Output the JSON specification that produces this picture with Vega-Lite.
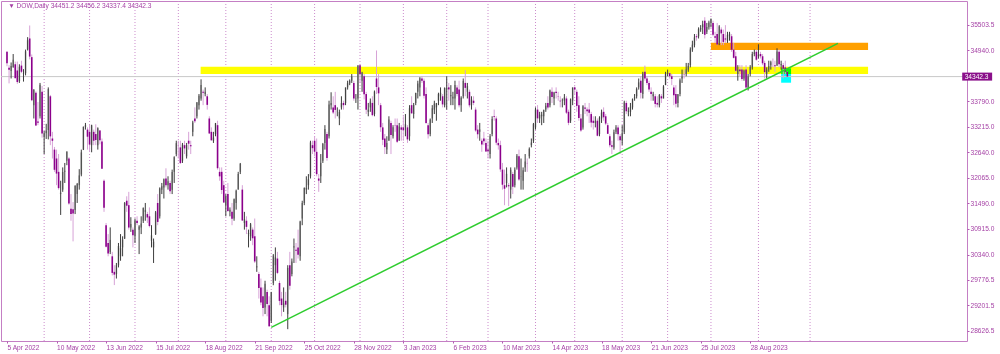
{
"$schema":"https://vega.github.io/schema/vega-lite/v6.json",
"width":966,"height":340,
"autosize":{"type":"none"},
"padding":{"left":1,"top":1,"right":33,"bottom":13},
"background":"white",
"config":{
"view":{"stroke":"#c47fc4","strokeWidth":1},
"axis":{"grid":false,"domain":false,"labelFont":"Liberation Sans","labelFontSize":6.6,"labelColor":"#a43fa4","tickColor":"#b25bb2","labelOverlap":false,"labelFlush":false,"labelBound":false},
"axisX":{"tickSize":2,"labelAlign":"left","labelPadding":1,"labelBaseline":"top","labelDx":0.5},
"axisY":{"tickSize":2,"labelPadding":1,"labelBaseline":"middle","labelAlign":"left"}
},
"encoding":{
"x":{"type":"quantitative","title":null,"scale":{"domain":[-0.48,462.6],"nice":false,"zero":false},
 "axis":{"labelOverlap":false,"values":[0,24,48,72,96,120,144,168,192,216,240,264,288,312,336,360],"labelExpr":"['5 Apr 2022','10 May 2022','13 Jun 2022','15 Jul 2022','18 Aug 2022','21 Sep 2022','25 Oct 2022','28 Nov 2022','3 Jan 2023','6 Feb 2023','10 Mar 2023','14 Apr 2023','18 May 2023','21 Jun 2023','25 Jul 2023','28 Aug 2023'][round(datum.value/24)]"}},
"y":{"type":"quantitative","title":null,"scale":{"domain":[28395,36043],"nice":false,"zero":false},
 "axis":{"orient":"right","labelOverlap":false,"values":[35503.5,34940.0,33790.0,33215.0,32640.0,32065.0,31490.0,30915.0,30340.0,29776.5,29201.5,28626.5],"format":".1f"}}
},
"datasets":{
"grid":[{"m":18},{"m":40},{"m":62},{"m":83},{"m":106},{"m":128},{"m":149},{"m":171},{"m":192},{"m":213},{"m":233},{"m":256},{"m":275},{"m":298},{"m":320},{"m":341},{"m":364},{"m":389}],
"zones":[{"zone":"support","a":93.8,"b":417.1,"lo":34401,"hi":34565},{"zone":"resistance","a":341.0,"b":417.1,"lo":34941,"hi":35105}],
"box":[{"a":375.0,"b":379.8,"lo":34205,"hi":34529}],
"price":[{"p":34342.3}],
"header":[{"label":"▼ DOW,Daily  34451.2 34456.2 34337.4 34342.3"}],
"trend":[{"t":128.0,"p":28703},{"t":402.5,"p":35091.5}],
"candles":[
{"i":0,"o":34900,"h":34911,"l":34575,"c":34641},{"i":1,"o":34540,"h":34600,"l":34190,"c":34497},{"i":2,"o":34470,"h":34660,"l":34300,"c":34583},{"i":3,"o":34560,"h":34850,"l":34540,"c":34721},{"i":4,"o":34620,"h":34680,"l":34300,"c":34308},
{"i":5,"o":34480,"h":34680,"l":34180,"c":34220},{"i":6,"o":34240,"h":34620,"l":34200,"c":34564},{"i":7,"o":34590,"h":34700,"l":34420,"c":34451},{"i":8,"o":34400,"h":34510,"l":34230,"c":34412},{"i":9,"o":34420,"h":34950,"l":34370,"c":34911},
{"i":10,"o":34950,"h":35230,"l":34930,"c":35160},{"i":11,"o":35200,"h":35492,"l":34730,"c":34793},{"i":12,"o":34780,"h":34840,"l":33790,"c":33811},{"i":13,"o":33700,"h":34060,"l":33400,"c":34049},{"i":14,"o":33980,"h":34010,"l":33230,"c":33240},
{"i":15,"o":33330,"h":33770,"l":33250,"c":33302},{"i":16,"o":33450,"h":34200,"l":33400,"c":34160},{"i":17,"o":34000,"h":34130,"l":32970,"c":33061},{"i":18,"o":32990,"h":33120,"l":32600,"c":33061},{"i":19,"o":33070,"h":33280,"l":32940,"c":33128},
{"i":20,"o":33140,"h":34100,"l":32930,"c":34061},{"i":21,"o":33900,"h":33930,"l":32800,"c":32998},{"i":22,"o":32950,"h":33100,"l":32500,"c":32899},{"i":23,"o":32700,"h":32760,"l":32200,"c":32246},{"i":24,"o":32500,"h":32700,"l":31900,"c":32161},
{"i":25,"o":32200,"h":32600,"l":31800,"c":31834},{"i":26,"o":31700,"h":32000,"l":31230,"c":31730},{"i":27,"o":31800,"h":32300,"l":31750,"c":32196},{"i":28,"o":32200,"h":32400,"l":31950,"c":32223},{"i":29,"o":32450,"h":32660,"l":32350,"c":32655},
{"i":30,"o":32500,"h":32530,"l":31460,"c":31490},{"i":31,"o":31370,"h":31700,"l":31100,"c":31253},{"i":32,"o":31360,"h":31520,"l":30636,"c":31262},{"i":33,"o":31340,"h":31900,"l":31250,"c":31880},{"i":34,"o":31700,"h":31950,"l":31500,"c":31928},
{"i":35,"o":31900,"h":32260,"l":31800,"c":32120},{"i":36,"o":32140,"h":32700,"l":32100,"c":32637},{"i":37,"o":32700,"h":33220,"l":32690,"c":33213},{"i":38,"o":33213,"h":33300,"l":33150,"c":33250},{"i":39,"o":33150,"h":33200,"l":32700,"c":32990},
{"i":40,"o":33100,"h":33260,"l":32650,"c":32813},{"i":41,"o":32800,"h":33260,"l":32640,"c":33248},{"i":42,"o":33100,"h":33150,"l":32800,"c":32900},{"i":43,"o":33050,"h":33270,"l":32800,"c":32916},{"i":44,"o":32800,"h":33200,"l":32700,"c":33180},
{"i":45,"o":33130,"h":33140,"l":32820,"c":32910},{"i":46,"o":32880,"h":32950,"l":32270,"c":32272},{"i":47,"o":32000,"h":32030,"l":31300,"c":31393},{"i":48,"o":31000,"h":31050,"l":30500,"c":30517},{"i":49,"o":30600,"h":30800,"l":30300,"c":30365},
{"i":50,"o":30400,"h":30950,"l":30350,"c":30669},{"i":51,"o":30300,"h":30400,"l":29870,"c":29927},{"i":52,"o":29950,"h":30100,"l":29653,"c":29888},{"i":53,"o":29900,"h":30150,"l":29800,"c":30100},{"i":54,"o":30100,"h":30600,"l":30050,"c":30530},
{"i":55,"o":30300,"h":30800,"l":30200,"c":30483},{"i":56,"o":30500,"h":30750,"l":30300,"c":30677},{"i":57,"o":30700,"h":31520,"l":30690,"c":31500},{"i":58,"o":31550,"h":31650,"l":31300,"c":31438},{"i":59,"o":31450,"h":31750,"l":30900,"c":30947},
{"i":60,"o":30950,"h":31180,"l":30850,"c":31029},{"i":61,"o":30900,"h":30950,"l":30500,"c":30775},{"i":62,"o":30750,"h":31150,"l":30600,"c":31097},{"i":63,"o":31100,"h":31200,"l":31000,"c":31050},{"i":64,"o":30900,"h":31000,"l":30350,"c":30968},
{"i":65,"o":30950,"h":31200,"l":30800,"c":31037},{"i":66,"o":31100,"h":31400,"l":31050,"c":31385},{"i":67,"o":31300,"h":31500,"l":31100,"c":31338},{"i":68,"o":31250,"h":31300,"l":31050,"c":31173},{"i":69,"o":31200,"h":31400,"l":30950,"c":30982},
{"i":70,"o":30650,"h":31000,"l":30500,"c":30772},{"i":71,"o":30500,"h":30700,"l":30150,"c":30630},{"i":72,"o":30800,"h":31320,"l":30780,"c":31289},{"i":73,"o":31500,"h":31700,"l":31000,"c":31073},{"i":74,"o":31200,"h":31850,"l":31150,"c":31828},
{"i":75,"o":31800,"h":31950,"l":31700,"c":31875},{"i":76,"o":31850,"h":32050,"l":31600,"c":32036},{"i":77,"o":32050,"h":32280,"l":31850,"c":31899},{"i":78,"o":31900,"h":32100,"l":31800,"c":31990},{"i":79,"o":31950,"h":32000,"l":31700,"c":31762},
{"i":80,"o":31800,"h":32250,"l":31700,"c":32198},{"i":81,"o":32200,"h":32550,"l":31950,"c":32530},{"i":82,"o":32600,"h":32900,"l":32550,"c":32845},{"i":83,"o":32800,"h":32900,"l":32500,"c":32798},{"i":84,"o":32750,"h":32900,"l":32380,"c":32397},
{"i":85,"o":32450,"h":32850,"l":32400,"c":32813},{"i":86,"o":32800,"h":32900,"l":32600,"c":32727},{"i":87,"o":32550,"h":32850,"l":32500,"c":32803},{"i":88,"o":32900,"h":33100,"l":32700,"c":32833},{"i":89,"o":32800,"h":32900,"l":32600,"c":32775},
{"i":90,"o":33100,"h":33350,"l":33000,"c":33310},{"i":91,"o":33400,"h":33650,"l":33300,"c":33337},{"i":92,"o":33450,"h":33770,"l":33400,"c":33761},{"i":93,"o":33700,"h":33950,"l":33600,"c":33913},{"i":94,"o":33850,"h":34281,"l":33800,"c":34152},
{"i":95,"o":34000,"h":34050,"l":33700,"c":33980},{"i":96,"o":33950,"h":34100,"l":33900,"c":33999},{"i":97,"o":33900,"h":33950,"l":33600,"c":33707},{"i":98,"o":33400,"h":33450,"l":33050,"c":33064},{"i":99,"o":33100,"h":33200,"l":32900,"c":32910},
{"i":100,"o":32900,"h":33100,"l":32850,"c":32970},{"i":101,"o":33050,"h":33300,"l":33000,"c":33292},{"i":102,"o":33250,"h":33350,"l":32250,"c":32283},{"i":103,"o":32200,"h":32300,"l":32000,"c":32099},{"i":104,"o":32200,"h":32300,"l":31700,"c":31791},
{"i":105,"o":31900,"h":32000,"l":31500,"c":31510},{"i":106,"o":31450,"h":31700,"l":31200,"c":31656},{"i":107,"o":31700,"h":31950,"l":31300,"c":31318},{"i":108,"o":31300,"h":31400,"l":31200,"c":31350},{"i":109,"o":31300,"h":31500,"l":31000,"c":31145},
{"i":110,"o":31150,"h":31600,"l":31100,"c":31581},{"i":111,"o":31500,"h":31800,"l":31350,"c":31775},{"i":112,"o":31800,"h":32200,"l":31800,"c":32152},{"i":113,"o":32200,"h":32400,"l":32150,"c":32381},{"i":114,"o":31800,"h":31900,"l":31100,"c":31105},
{"i":115,"o":31050,"h":31300,"l":30900,"c":31135},{"i":116,"o":31100,"h":31200,"l":30800,"c":30962},{"i":117,"o":30800,"h":30900,"l":30500,"c":30822},{"i":118,"o":30750,"h":31050,"l":30650,"c":31020},{"i":119,"o":30900,"h":30950,"l":30550,"c":30706},
{"i":120,"o":30750,"h":31150,"l":30150,"c":30184},{"i":121,"o":30050,"h":30300,"l":29950,"c":30077},{"i":122,"o":29900,"h":29950,"l":29350,"c":29590},{"i":123,"o":29600,"h":29800,"l":29200,"c":29261},{"i":124,"o":29400,"h":29600,"l":28950,"c":29135},
{"i":125,"o":29150,"h":29750,"l":29000,"c":29684},{"i":126,"o":29500,"h":29550,"l":28950,"c":29226},{"i":127,"o":29200,"h":29400,"l":28715,"c":28726},{"i":128,"o":28850,"h":29500,"l":28800,"c":29490},{"i":129,"o":29700,"h":30350,"l":29650,"c":30317},
{"i":130,"o":30100,"h":30500,"l":29750,"c":30274},{"i":131,"o":30250,"h":30400,"l":29900,"c":29927},{"i":132,"o":29700,"h":29750,"l":29200,"c":29297},{"i":133,"o":29350,"h":29500,"l":28950,"c":29203},{"i":134,"o":29150,"h":29600,"l":29050,"c":29240},
{"i":135,"o":29300,"h":29500,"l":29150,"c":29211},{"i":136,"o":29000,"h":30100,"l":28661,"c":30039},{"i":137,"o":30100,"h":30400,"l":29550,"c":29635},{"i":138,"o":29900,"h":30250,"l":29850,"c":30186},{"i":139,"o":30500,"h":30700,"l":30150,"c":30524},
{"i":140,"o":30450,"h":30600,"l":30150,"c":30424},{"i":141,"o":30500,"h":30900,"l":30250,"c":30334},{"i":142,"o":30300,"h":31100,"l":30200,"c":31083},{"i":143,"o":31150,"h":31550,"l":31000,"c":31500},{"i":144,"o":31500,"h":31850,"l":31450,"c":31837},
{"i":145,"o":31800,"h":32100,"l":31700,"c":31839},{"i":146,"o":31900,"h":32150,"l":31800,"c":32034},{"i":147,"o":32100,"h":32900,"l":32050,"c":32861},{"i":148,"o":32800,"h":32900,"l":32600,"c":32733},{"i":149,"o":32900,"h":33000,"l":32550,"c":32653},
{"i":150,"o":32650,"h":32950,"l":32100,"c":32148},{"i":151,"o":32050,"h":32150,"l":31750,"c":32002},{"i":152,"o":32100,"h":32600,"l":31950,"c":32403},{"i":153,"o":32450,"h":32850,"l":32400,"c":32827},{"i":154,"o":32850,"h":33250,"l":32700,"c":33161},
{"i":155,"o":33050,"h":33100,"l":32450,"c":32514},{"i":156,"o":33000,"h":33800,"l":32950,"c":33716},{"i":157,"o":33700,"h":33990,"l":33600,"c":33748},{"i":158,"o":33650,"h":33900,"l":33500,"c":33537},{"i":159,"o":33700,"h":34000,"l":33400,"c":33593},
{"i":160,"o":33550,"h":33650,"l":33450,"c":33554},{"i":161,"o":33400,"h":33600,"l":33250,"c":33547},{"i":162,"o":33650,"h":33900,"l":33600,"c":33746},{"i":163,"o":33750,"h":33800,"l":33600,"c":33700},{"i":164,"o":33750,"h":34100,"l":33700,"c":34098},
{"i":165,"o":34100,"h":34250,"l":34050,"c":34194},{"i":166,"o":34190,"h":34280,"l":34150,"c":34250},{"i":167,"o":34250,"h":34400,"l":34200,"c":34347},{"i":168,"o":34200,"h":34250,"l":33800,"c":33849},{"i":169,"o":33850,"h":33950,"l":33750,"c":33853},
{"i":170,"o":33850,"h":34600,"l":33600,"c":34590},{"i":171,"o":34600,"h":34620,"l":34200,"c":34395},{"i":172,"o":34250,"h":34450,"l":34000,"c":34430},{"i":173,"o":34350,"h":34400,"l":33830,"c":33947},{"i":174,"o":33950,"h":34000,"l":33500,"c":33597},
{"i":175,"o":33550,"h":33750,"l":33450,"c":33598},{"i":176,"o":33650,"h":33850,"l":33550,"c":33781},{"i":177,"o":33750,"h":33900,"l":33450,"c":33476},{"i":178,"o":33500,"h":34030,"l":33450,"c":34005},{"i":179,"o":34300,"h":34930,"l":33950,"c":34109},
{"i":180,"o":34100,"h":34400,"l":33700,"c":33966},{"i":181,"o":33700,"h":33750,"l":33100,"c":33203},{"i":182,"o":33200,"h":33300,"l":32800,"c":32920},{"i":183,"o":32950,"h":33050,"l":32600,"c":32757},{"i":184,"o":32700,"h":33000,"l":32600,"c":32850},
{"i":185,"o":32900,"h":33450,"l":32900,"c":33377},{"i":186,"o":33300,"h":33350,"l":32600,"c":33027},{"i":187,"o":33000,"h":33250,"l":32950,"c":33204},{"i":188,"o":33250,"h":33400,"l":33100,"c":33241},{"i":189,"o":33250,"h":33400,"l":32850,"c":32876},
{"i":190,"o":32900,"h":33300,"l":32900,"c":33221},{"i":191,"o":33200,"h":33250,"l":32900,"c":33147},{"i":192,"o":33200,"h":33450,"l":32900,"c":33136},{"i":193,"o":33200,"h":33500,"l":33000,"c":33270},{"i":194,"o":33200,"h":33250,"l":32850,"c":32930},
{"i":195,"o":33000,"h":33700,"l":32900,"c":33631},{"i":196,"o":33700,"h":33900,"l":33500,"c":33518},{"i":197,"o":33500,"h":33750,"l":33400,"c":33704},{"i":198,"o":33750,"h":33980,"l":33700,"c":33974},{"i":199,"o":34000,"h":34250,"l":33850,"c":34190},
{"i":200,"o":34100,"h":34330,"l":33900,"c":34303},{"i":201,"o":34300,"h":34350,"l":34200,"c":34250},{"i":202,"o":34250,"h":34300,"l":33850,"c":33910},{"i":203,"o":33950,"h":34100,"l":33280,"c":33297},{"i":204,"o":33250,"h":33300,"l":32950,"c":33045},
{"i":205,"o":33050,"h":33400,"l":33000,"c":33375},{"i":206,"o":33400,"h":33700,"l":33300,"c":33630},{"i":207,"o":33600,"h":33800,"l":33500,"c":33734},{"i":208,"o":33650,"h":33750,"l":33350,"c":33744},{"i":209,"o":33800,"h":33980,"l":33700,"c":33949},
{"i":210,"o":33900,"h":34100,"l":33800,"c":33978},{"i":211,"o":33900,"h":33950,"l":33650,"c":33717},{"i":212,"o":33700,"h":34100,"l":33650,"c":34086},{"i":213,"o":34050,"h":34350,"l":33600,"c":34093},{"i":214,"o":34100,"h":34200,"l":33800,"c":34054},
{"i":215,"o":33900,"h":34150,"l":33700,"c":33926},{"i":216,"o":33850,"h":34000,"l":33700,"c":33891},{"i":217,"o":33850,"h":34250,"l":33600,"c":34156},{"i":218,"o":34100,"h":34150,"l":33900,"c":33949},{"i":219,"o":34050,"h":34250,"l":33650,"c":33699},
{"i":220,"o":33700,"h":33900,"l":33550,"c":33869},{"i":221,"o":33900,"h":34300,"l":33850,"c":34246},{"i":222,"o":34200,"h":34490,"l":33900,"c":34089},{"i":223,"o":34000,"h":34200,"l":33850,"c":34128},{"i":224,"o":34000,"h":34050,"l":33650,"c":33697},
{"i":225,"o":33700,"h":33900,"l":33600,"c":33827},{"i":226,"o":33800,"h":33900,"l":33700,"c":33750},{"i":227,"o":33600,"h":33650,"l":33100,"c":33130},{"i":228,"o":33150,"h":33250,"l":32950,"c":33045},{"i":229,"o":33100,"h":33300,"l":32900,"c":33154},
{"i":230,"o":32900,"h":32950,"l":32650,"c":32817},{"i":231,"o":32950,"h":33100,"l":32800,"c":32889},{"i":232,"o":32850,"h":32950,"l":32650,"c":32657},{"i":233,"o":32700,"h":32900,"l":32500,"c":32662},{"i":234,"o":32600,"h":33050,"l":32500,"c":33003},
{"i":235,"o":33050,"h":33450,"l":33000,"c":33391},{"i":236,"o":33450,"h":33600,"l":33350,"c":33431},{"i":237,"o":33400,"h":33450,"l":32800,"c":32856},{"i":238,"o":32850,"h":32950,"l":32700,"c":32798},{"i":239,"o":32800,"h":32900,"l":32200,"c":32255},
{"i":240,"o":32250,"h":32400,"l":31800,"c":31910},{"i":241,"o":31900,"h":32250,"l":31450,"c":31820},{"i":242,"o":31950,"h":32300,"l":31850,"c":32155},{"i":243,"o":31900,"h":31950,"l":31430,"c":31875},{"i":244,"o":31800,"h":32300,"l":31600,"c":32247},
{"i":245,"o":32150,"h":32200,"l":31700,"c":31862},{"i":246,"o":31900,"h":32300,"l":31850,"c":32245},{"i":247,"o":32300,"h":32600,"l":32250,"c":32561},{"i":248,"o":32550,"h":32700,"l":32000,"c":32030},{"i":249,"o":32100,"h":32500,"l":31800,"c":32106},
{"i":250,"o":32000,"h":32300,"l":31800,"c":32238},{"i":251,"o":32300,"h":32600,"l":32200,"c":32433},{"i":252,"o":32400,"h":32500,"l":32200,"c":32395},{"i":253,"o":32550,"h":32750,"l":32500,"c":32718},{"i":254,"o":32800,"h":32950,"l":32750,"c":32860},
{"i":255,"o":32900,"h":33300,"l":32850,"c":33274},{"i":256,"o":33200,"h":33650,"l":33150,"c":33601},{"i":257,"o":33600,"h":33700,"l":33300,"c":33403},{"i":258,"o":33400,"h":33550,"l":33300,"c":33483},{"i":259,"o":33450,"h":33550,"l":33250,"c":33486},
{"i":260,"o":33450,"h":33600,"l":33300,"c":33587},{"i":261,"o":33600,"h":33750,"l":33550,"c":33685},{"i":262,"o":33750,"h":33900,"l":33600,"c":33647},{"i":263,"o":33700,"h":34050,"l":33650,"c":34030},{"i":264,"o":34000,"h":34100,"l":33750,"c":33886},
{"i":265,"o":33850,"h":34000,"l":33700,"c":33987},{"i":266,"o":34000,"h":34100,"l":33850,"c":33976},{"i":267,"o":33900,"h":34000,"l":33800,"c":33897},{"i":268,"o":33800,"h":33900,"l":33650,"c":33786},{"i":269,"o":33800,"h":33850,"l":33650,"c":33809},
{"i":270,"o":33800,"h":33950,"l":33700,"c":33876},{"i":271,"o":33850,"h":33900,"l":33500,"c":33531},{"i":272,"o":33550,"h":33600,"l":33250,"c":33302},{"i":273,"o":33350,"h":33850,"l":33300,"c":33827},{"i":274,"o":33800,"h":34100,"l":33700,"c":34098},
{"i":275,"o":34100,"h":34120,"l":33950,"c":34051},{"i":276,"o":34000,"h":34050,"l":33550,"c":33684},{"i":277,"o":33700,"h":33900,"l":33350,"c":33414},{"i":278,"o":33400,"h":33500,"l":33100,"c":33128},{"i":279,"o":33200,"h":33700,"l":33150,"c":33674},
{"i":280,"o":33650,"h":33750,"l":33500,"c":33619},{"i":281,"o":33600,"h":33650,"l":33450,"c":33562},{"i":282,"o":33600,"h":33750,"l":33300,"c":33531},{"i":283,"o":33500,"h":33550,"l":33200,"c":33309},{"i":284,"o":33350,"h":33450,"l":33150,"c":33301},
{"i":285,"o":33300,"h":33450,"l":33200,"c":33349},{"i":286,"o":33350,"h":33400,"l":33000,"c":33012},{"i":287,"o":33050,"h":33450,"l":33000,"c":33420},{"i":288,"o":33400,"h":33600,"l":33300,"c":33535},{"i":289,"o":33550,"h":33650,"l":33350,"c":33427},
{"i":290,"o":33450,"h":33500,"l":33250,"c":33286},{"i":291,"o":33250,"h":33300,"l":33050,"c":33056},{"i":292,"o":33000,"h":33050,"l":32750,"c":32800},{"i":293,"o":32800,"h":32900,"l":32600,"c":32765},{"i":294,"o":32750,"h":33150,"l":32700,"c":33093},
{"i":295,"o":33100,"h":33250,"l":33050,"c":33200},{"i":296,"o":33200,"h":33250,"l":32900,"c":33043},{"i":297,"o":33000,"h":33050,"l":32600,"c":32908},{"i":298,"o":32900,"h":33250,"l":32800,"c":33061},{"i":299,"o":33100,"h":33800,"l":33050,"c":33762},
{"i":300,"o":33750,"h":33800,"l":33500,"c":33563},{"i":301,"o":33550,"h":33650,"l":33450,"c":33573},{"i":302,"o":33550,"h":33750,"l":33450,"c":33665},{"i":303,"o":33650,"h":33850,"l":33600,"c":33833},{"i":304,"o":33850,"h":33950,"l":33800,"c":33877},
{"i":305,"o":33900,"h":34100,"l":33850,"c":34066},{"i":306,"o":34100,"h":34300,"l":34050,"c":34212},{"i":307,"o":34250,"h":34350,"l":33850,"c":33979},{"i":308,"o":33950,"h":34450,"l":33850,"c":34408},{"i":309,"o":34450,"h":34590,"l":34250,"c":34299},
{"i":310,"o":34300,"h":34350,"l":34150,"c":34200},{"i":311,"o":34200,"h":34250,"l":34000,"c":34053},{"i":312,"o":34000,"h":34100,"l":33800,"c":33951},{"i":313,"o":33900,"h":34000,"l":33800,"c":33946},{"i":314,"o":33900,"h":33950,"l":33650,"c":33727},
{"i":315,"o":33750,"h":33900,"l":33650,"c":33714},{"i":316,"o":33700,"h":33950,"l":33650,"c":33927},{"i":317,"o":33900,"h":33950,"l":33750,"c":33852},{"i":318,"o":33850,"h":34150,"l":33850,"c":34122},{"i":319,"o":34150,"h":34450,"l":34150,"c":34408},
{"i":320,"o":34400,"h":34500,"l":34350,"c":34418},{"i":321,"o":34420,"h":34450,"l":34300,"c":34350},{"i":322,"o":34350,"h":34400,"l":34150,"c":34288},{"i":323,"o":34100,"h":34150,"l":33700,"c":33922},{"i":324,"o":33950,"h":34150,"l":33650,"c":33734},
{"i":325,"o":33750,"h":33950,"l":33650,"c":33944},{"i":326,"o":33950,"h":34300,"l":33900,"c":34262},{"i":327,"o":34300,"h":34500,"l":34200,"c":34347},{"i":328,"o":34400,"h":34500,"l":34300,"c":34395},{"i":329,"o":34400,"h":34650,"l":34350,"c":34509},
{"i":330,"o":34500,"h":34650,"l":34450,"c":34585},{"i":331,"o":34600,"h":35000,"l":34550,"c":34952},{"i":332,"o":34950,"h":35150,"l":34900,"c":35061},{"i":333,"o":35050,"h":35300,"l":35000,"c":35225},{"i":334,"o":35250,"h":35300,"l":35150,"c":35228},
{"i":335,"o":35250,"h":35450,"l":35200,"c":35411},{"i":336,"o":35400,"h":35500,"l":35350,"c":35438},{"i":337,"o":35450,"h":35600,"l":35300,"c":35520},{"i":338,"o":35600,"h":35679,"l":35200,"c":35283},{"i":339,"o":35350,"h":35550,"l":35300,"c":35459},
{"i":340,"o":35450,"h":35600,"l":35400,"c":35560},{"i":341,"o":35550,"h":35650,"l":35450,"c":35630},{"i":342,"o":35550,"h":35600,"l":35250,"c":35283},{"i":343,"o":35250,"h":35350,"l":35100,"c":35216},{"i":344,"o":35300,"h":35550,"l":35050,"c":35066},
{"i":345,"o":35100,"h":35500,"l":35050,"c":35473},{"i":346,"o":35400,"h":35450,"l":35050,"c":35314},{"i":347,"o":35300,"h":35400,"l":35050,"c":35123},{"i":348,"o":35200,"h":35500,"l":35100,"c":35176},{"i":349,"o":35150,"h":35350,"l":35100,"c":35281},
{"i":350,"o":35250,"h":35350,"l":35150,"c":35308},{"i":351,"o":35250,"h":35300,"l":34900,"c":34946},{"i":352,"o":34950,"h":35100,"l":34750,"c":34765},{"i":353,"o":34800,"h":34900,"l":34450,"c":34474},{"i":354,"o":34400,"h":34600,"l":34250,"c":34501},
{"i":355,"o":34500,"h":34600,"l":34350,"c":34464},{"i":356,"o":34500,"h":34600,"l":34250,"c":34289},{"i":357,"o":34300,"h":34500,"l":34250,"c":34473},{"i":358,"o":34500,"h":34600,"l":34050,"c":34099},{"i":359,"o":34100,"h":34400,"l":34030,"c":34347},
{"i":360,"o":34400,"h":34600,"l":34350,"c":34559},{"i":361,"o":34550,"h":34900,"l":34500,"c":34852},{"i":362,"o":34850,"h":34950,"l":34800,"c":34891},{"i":363,"o":34900,"h":34950,"l":34700,"c":34722},{"i":364,"o":34800,"h":35070,"l":34750,"c":34838},
{"i":365,"o":34850,"h":34900,"l":34750,"c":34800},{"i":366,"o":34800,"h":34850,"l":34600,"c":34642},{"i":367,"o":34650,"h":34700,"l":34300,"c":34443},{"i":368,"o":34400,"h":34550,"l":34300,"c":34501},{"i":369,"o":34500,"h":34700,"l":34450,"c":34577},
{"i":370,"o":34600,"h":34700,"l":34500,"c":34664},{"i":371,"o":34650,"h":34750,"l":34550,"c":34646},{"i":372,"o":34600,"h":34700,"l":34450,"c":34576},{"i":373,"o":34600,"h":34980,"l":34580,"c":34907},{"i":374,"o":34900,"h":34950,"l":34550,"c":34618},
{"i":375,"o":34600,"h":34700,"l":34500,"c":34625},{"i":376,"o":34600,"h":34650,"l":34300,"c":34518},{"i":377,"o":34550,"h":34700,"l":34400,"c":34451},{"i":378,"o":34451.2,"h":34456.2,"l":34337.4,"c":34342.3}
]
},
"layer":[
{"data":{"name":"grid"},"mark":{"type":"rule","color":"#cc8ccc","strokeDash":[1,2],"strokeWidth":1},
 "encoding":{"x":{"field":"m"}}},
{"data":{"name":"zones"},"mark":{"type":"rect"},
 "encoding":{"x":{"field":"a"},"x2":{"field":"b"},"y":{"field":"lo"},"y2":{"field":"hi"},
  "color":{"field":"zone","type":"nominal","scale":{"domain":["support","resistance"],"range":["#ffff00","#ffa000"]},"legend":null}}},
{"data":{"name":"box"},"mark":{"type":"rect","color":"#00ffff","blend":"multiply"},
 "encoding":{"x":{"field":"a"},"x2":{"field":"b"},"y":{"field":"lo"},"y2":{"field":"hi"}}},
{"data":{"name":"price"},"mark":{"type":"rule","color":"#c8c8c8","strokeWidth":1},
 "encoding":{"y":{"field":"p"}}},
{"data":{"name":"candles"},"transform":[{"filter":"datum.c < datum.o"}],"mark":{"type":"rule","color":"#d7a2d7","strokeWidth":1},
 "encoding":{"x":{"field":"i"},"y":{"field":"l"},"y2":{"field":"h"}}},
{"data":{"name":"candles"},"mark":{"type":"bar","size":1.6},
 "encoding":{"x":{"field":"i"},"y":{"field":"o"},"y2":{"field":"c"},
  "color":{"condition":{"test":"datum.c >= datum.o","value":"#a3a3a3"},"value":"#8b008b"}}},
{"data":{"name":"candles"},"transform":[{"filter":"datum.c >= datum.o"}],"mark":{"type":"rule","color":"#3d3d3d","strokeWidth":1},
 "encoding":{"x":{"field":"i"},"y":{"field":"l"},"y2":{"field":"h"}}},
{"data":{"name":"trend"},"mark":{"type":"line","color":"#2ecc2e","strokeWidth":1.5},
 "encoding":{"x":{"field":"t"},"y":{"field":"p"}}},
{"data":{"name":"header"},"mark":{"type":"text","align":"left","baseline":"top","color":"#a43fa4","font":"Liberation Sans","fontSize":6.6,"clip":false},
 "encoding":{"x":{"datum":0.6},"y":{"datum":35995},"text":{"field":"label","type":"nominal"}}},
{"data":{"name":"price"},"mark":{"type":"rule","color":"#8a0f8a","strokeWidth":8,"strokeCap":"butt","clip":false},
 "encoding":{"x":{"datum":462.7},"x2":{"datum":477.2},"y":{"field":"p"}}},
{"data":{"name":"price"},"mark":{"type":"text","align":"left","baseline":"middle","color":"#ffffff","font":"Liberation Sans","fontSize":6.6,"clip":false},
 "encoding":{"x":{"datum":463.9},"y":{"field":"p"},"text":{"field":"p","type":"quantitative","format":".1f"}}}
]
}
